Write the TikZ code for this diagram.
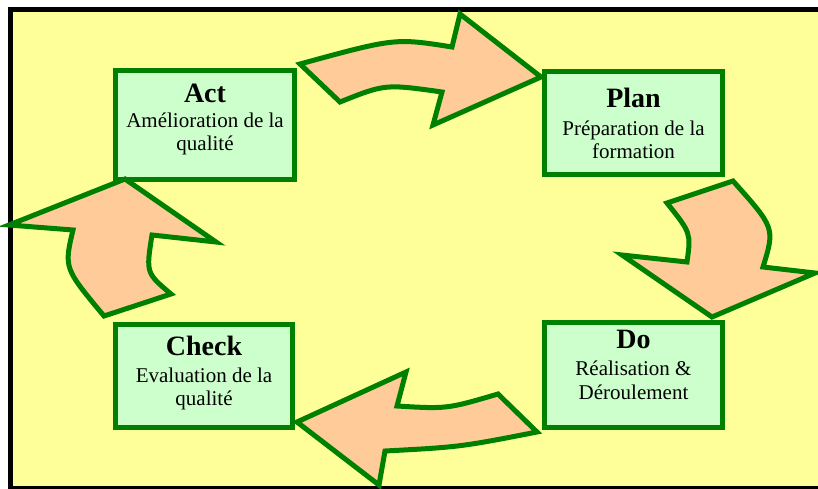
\documentclass[tikz,border=0pt]{standalone}
\usepackage{fontspec}
\setmainfont{Liberation Serif}
\definecolor{bgyellow}{HTML}{FFFF99}
\definecolor{boxgreen}{HTML}{CCFFCC}
\definecolor{edgegreen}{HTML}{008000}
\definecolor{arrowfill}{HTML}{FFCC99}
\tikzset{
  pdcabox/.style={draw=edgegreen, fill=boxgreen, line width=5pt, rectangle, inner sep=0pt},
  titletext/.style={anchor=base, inner sep=0pt, font=\fontsize{28}{30}\selectfont\bfseries},
  bodytext/.style={anchor=base, inner sep=0pt, font=\fontsize{21}{23}\selectfont},
  blockarrow/.style={draw=edgegreen, fill=arrowfill, line width=5pt, line join=miter, miter limit=10}
}
\begin{document}
\begin{tikzpicture}[x=1pt,y=-1pt]
\useasboundingbox (0,0) rectangle (818,489);
\clip (0,0) rectangle (818,489);
\fill[white] (0,0) rectangle (818,489);
\draw[line width=5pt, fill=bgyellow] (10.5,9.5) rectangle (840,488);

% boxes
\node[pdcabox, minimum width=179pt, minimum height=109pt] (act) at (205,125) {};
\node[pdcabox, minimum width=178pt, minimum height=103pt] (plan) at (633.5,123) {};
\node[pdcabox, minimum width=177pt, minimum height=103pt] (check) at (204,376) {};
\node[pdcabox, minimum width=178pt, minimum height=105pt] (do) at (633.5,375) {};

% texts
\node[titletext] (actT) at (205,103) {Act};
\node[bodytext] (actA) at (205,128) {Amélioration de la};
\node[bodytext] (actB) at (205,150) {qualité};

\node[titletext] (planT) at (633.5,108) {Plan};
\node[bodytext] (planA) at (633.5,136) {Préparation de la};
\node[bodytext] (planB) at (633.5,159) {formation};

\node[titletext] (checkT) at (204,355) {Check};
\node[bodytext] (checkA) at (204,382) {Evaluation de la};
\node[bodytext] (checkB) at (204,405) {qualité};

\node[titletext] (doT) at (633.5,348) {Do};
\node[bodytext] (doA) at (633.5,375) {Réalisation \&};
\node[bodytext] (doB) at (633.5,399) {Déroulement};

% top arrow (Act -> Plan)
\draw[blockarrow] (300,64) .. controls (395,38) .. (452,47)
  -- (460,14) -- (541,77) -- (433,125) -- (442,92)
  .. controls (385,84) .. (340,102) -- cycle;

% right arrow (Plan -> Do)
\draw[blockarrow] (667,203) -- (733,181)
  .. controls (775,228) .. (763,267)
  -- (815,273) -- (712,317) -- (622,255) -- (687,262)
  .. controls (691,233) .. (667,203) -- cycle;

% bottom arrow (Do -> Check)
\draw[blockarrow] (297,422) -- (406,372) -- (397,406)
  .. controls (447,409) .. (498,394)
  -- (537,432)
  .. controls (460,447) .. (385,451)
  -- (379,485) -- cycle;

% left arrow (Check -> Act)
\draw[blockarrow] (9,225) -- (125,179) -- (216,242) -- (152,235)
  .. controls (146,273) .. (171,294)
  -- (104,316)
  .. controls (64,268) .. (73,230) -- cycle;
\end{tikzpicture}
\end{document}
